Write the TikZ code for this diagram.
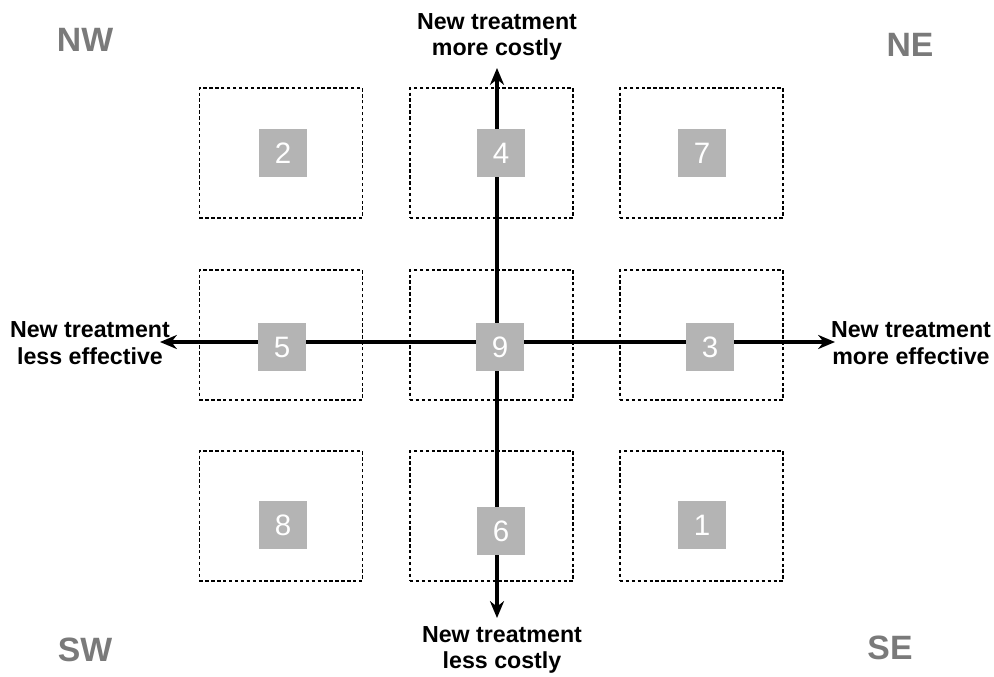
\documentclass[tikz,border=0pt]{standalone}
\usepackage{fontspec}
\setmainfont{Liberation Sans}
\usetikzlibrary{arrows.meta}

\definecolor{quadgray}{HTML}{7A7A7A}
\definecolor{cellgray}{HTML}{B4B4B4}

\begin{document}
\begin{tikzpicture}[x=0.025cm, y=-0.025cm,
  cell/.style={draw, dash pattern=on 2.4pt off 1.8pt, line width=1.2pt,
    minimum width=4.075cm, minimum height=3.25cm, inner sep=0pt},
  num/.style={fill=cellgray, text=white, minimum size=1.22cm, inner sep=0pt,
    font=\fontsize{21}{21}\selectfont},
  axis/.style={line width=2.2pt, {Stealth[length=12pt,width=10pt]}-{Stealth[length=12pt,width=10pt]}},
  axlabel/.style={align=center, inner sep=0pt,
    font=\bfseries\fontsize{16.5}{19}\selectfont},
  quad/.style={text=quadgray, inner sep=0pt, font=\bfseries\fontsize{24}{24}\selectfont}]
  \useasboundingbox (0,0) rectangle (994,677);

  % dashed cells
  \node[cell](C11) at (281,153) {};
  \node[cell](C12) at (491.5,153) {};
  \node[cell](C13) at (701.5,153) {};
  \node[cell](C21) at (281,335) {};
  \node[cell](C22) at (491.5,335) {};
  \node[cell](C23) at (701.5,335) {};
  \node[cell](C31) at (281,516) {};
  \node[cell](C32) at (491.5,516) {};
  \node[cell](C33) at (701.5,516) {};

  % axes
  \coordinate(W) at (160,342);
  \coordinate(E) at (835,342);
  \coordinate(N) at (497,68);
  \coordinate(S) at (497,618);
  \draw[axis] (W) -- (E);
  \draw[axis] (S) -- (N);

  \node[axlabel](NL) at (90,343) {New treatment\\less effective};
  \node[axlabel](NR) at (911,343) {New treatment\\more effective};
  \node[axlabel](NT) at (497,37) {New treatment\\more costly};
  \node[axlabel](NB) at (502,650) {New treatment\\less costly};

  % numbered squares
  \node[num](Q2) at (283,153) {2};
  \node[num](Q4) at (501,153) {4};
  \node[num](Q7) at (702,153) {7};
  \node[num](Q5) at (282,347) {5};
  \node[num](Q9) at (500,347) {9};
  \node[num](Q3) at (710,347) {3};
  \node[num](Q8) at (283,525) {8};
  \node[num](Q6) at (501,531) {6};
  \node[num](Q1) at (702,525) {1};

  % compass corners
  \node[quad](NW) at (85,40) {NW};
  \node[quad](NE) at (910,45) {NE};
  \node[quad](SW) at (85,650) {SW};
  \node[quad](SE) at (890,648) {SE};
\end{tikzpicture}
\end{document}
